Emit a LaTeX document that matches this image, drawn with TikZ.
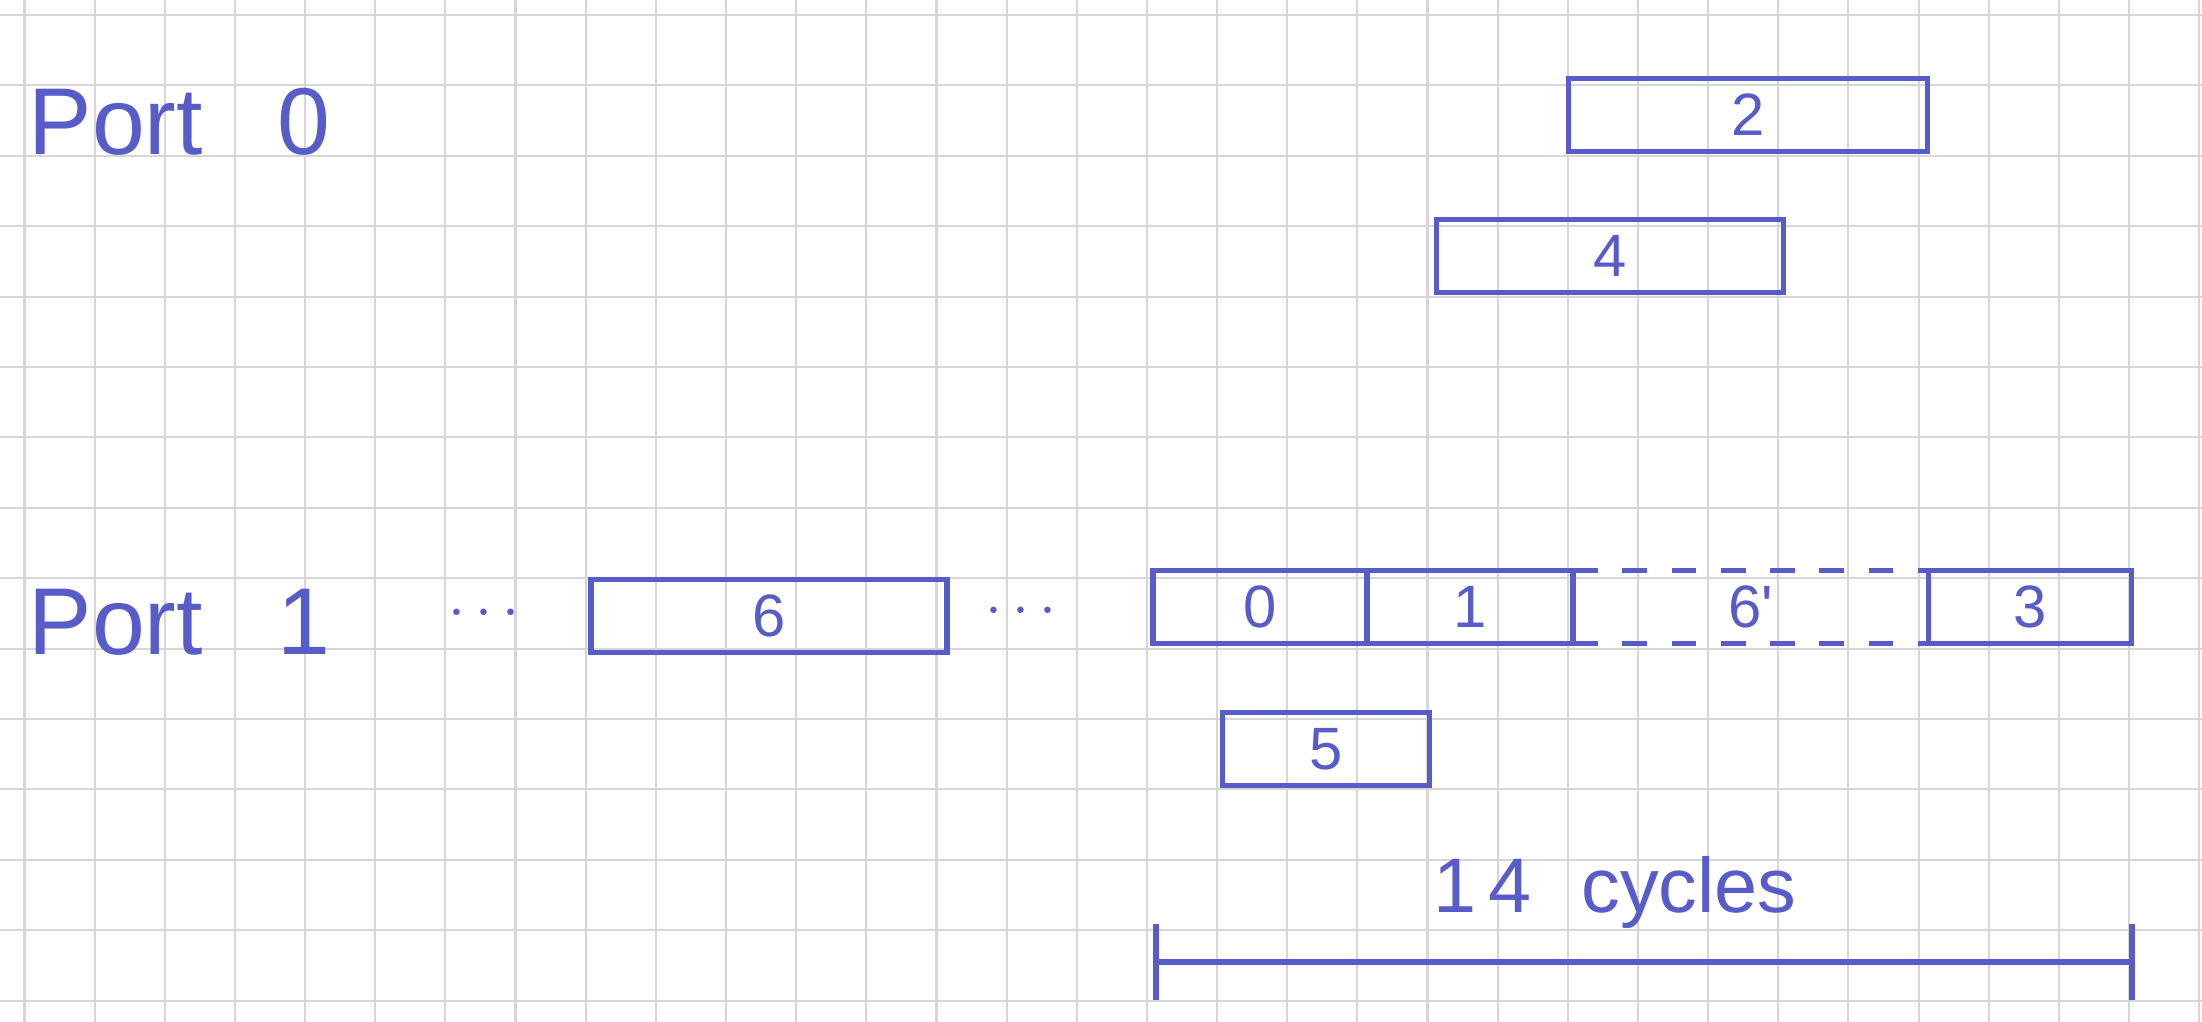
\documentclass[tikz,border=0pt]{standalone}
\usepackage{fontspec}
\setmainfont{Liberation Sans}
\usetikzlibrary{arrows.meta,positioning}
\definecolor{ink}{RGB}{88,92,200}
\definecolor{paper}{RGB}{214,214,214}

\begin{document}
\begin{tikzpicture}[
    x=0.01cm, y=-0.01cm,
    node distance=0pt,
    pen/.style={draw=ink, line width=1.6pt},
    slot/.style={pen, rectangle, minimum height=0.73cm,
      inner sep=0pt, outer sep=0pt, text=ink,
      font=\fontsize{17}{17}\selectfont},
    ghost/.style={slot, draw=none},
    portname/.style={text=ink, anchor=base west, inner sep=0pt,
      font=\fontsize{27}{27}\selectfont},
    gapdots/.style={text=ink, inner sep=0pt,
      font=\fontsize{18}{18}\selectfont},
    cyctext/.style={text=ink, inner sep=0pt,
      font=\fontsize{22}{22}\selectfont},
    rule/.style={draw=paper, line width=0.6pt},
    span/.style={pen, {Bar[width=0.75cm]}-{Bar[width=0.75cm]}}
  ]
  \useasboundingbox (0,0) rectangle (2202,1022);
  \fill[white] (0,0) rectangle (2202,1022);

  % squared paper
  \foreach \k in {0,...,31}
    \draw[rule] ({24.5+70.15*\k},0) -- ({24.5+70.15*\k},1022);
  \foreach \k in {0,...,14}
    \draw[rule] (0,{15+70.4*\k}) -- (2202,{15+70.4*\k});

  \node[portname] (port0) at (28,155) {Port\hspace{0.75cm}0};
  \node[portname] (port1) at (28,655) {Port\hspace{0.75cm}1};

  % port 0
  \node[slot, minimum width=3.59cm] (op2) at (1748,115) {2};
  \node[slot, minimum width=3.47cm] (op4) at (1610,256) {4};

  % port 1
  \node[gapdots] (gap0) at (484,614) {$\cdots$};
  \node[slot, minimum width=3.56cm] (op6) at (769,616) {6};
  \node[gapdots] (gap1) at (1021,612) {$\cdots$};
  \node[slot, minimum width=2.14cm] (op0) at (1260,607) {0};
  \node[slot, minimum width=2.06cm, right=of op0] (op1) {1};
  \node[ghost, minimum width=3.55cm, right=of op1] (op6b)
    {6\textquotesingle};
  \node[slot, minimum width=2.03cm, right=of op6b] (op3) {3};
  \node[slot, minimum width=2.07cm] (op5) at (1326,749) {5};

  \draw[pen, dash pattern=on 7pt off 7pt] (op6b.north west) -- (op6b.north east);
  \draw[pen, dash pattern=on 7pt off 7pt] (op6b.south west) -- (op6b.south east);

  % latency span
  \coordinate (cyc0) at (1153,962);
  \coordinate (cyc1) at (2135,962);
  \node[cyctext] (cyclabel) at (1615,893)
    {1\hspace{0.12cm}4\hspace{0.5cm}cycles};
  \draw[span] (cyc0) -- (cyc1);
\end{tikzpicture}
\end{document}
